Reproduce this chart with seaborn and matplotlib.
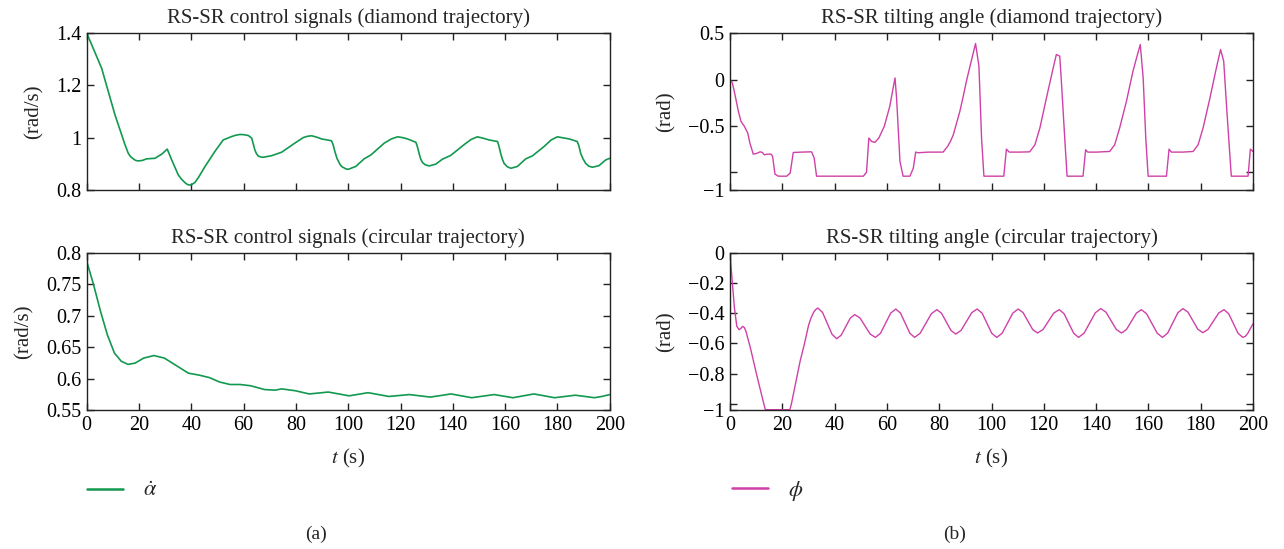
import matplotlib
matplotlib.use("Agg")
import matplotlib.pyplot as plt
import seaborn as sns
import pandas as pd
from matplotlib.lines import Line2D

# ---------------- data ----------------
# (a) top: RS-SR control signal, diamond trajectory
t_ctrl_diamond = [0, 5.7, 10.8, 13.4, 14.6, 15.9, 16.8, 17.8, 18.7, 19.7, 21.3, 22.9, 26.1, 28.7,
                  30.8, 32.5, 35.0, 36.3, 37.6, 38.4, 39.2, 40.2, 41.4, 42.8, 45.2, 49.0, 52.2,
                  55.4, 57.0, 58.6, 60.2, 61.8, 63.1, 64.3, 64.9, 65.6, 66.5, 67.5, 70.7, 74.5,
                  79.6, 82.8, 84.4, 86.0, 87.9, 89.8, 93.6, 94.2, 94.9, 95.7, 96.8, 97.6, 98.7,
                  99.3, 100.0, 102.9, 106.1, 108.7, 113.8, 116.5, 118.9, 120.8, 122.7, 125.9,
                  126.5, 127.1, 127.7, 128.4, 129.5, 131.0, 133.5, 136.1, 139.2, 144.3, 147.0,
                  149.4, 151.5, 153.9, 157.1, 157.6, 158.3, 158.9, 159.6, 160.8, 162.2, 164.7,
                  167.9, 170.4, 174.9, 177.6, 180.0, 182.2, 184.5, 187.6, 188.2, 188.9, 189.8,
                  190.8, 192.0, 193.4, 195.9, 198.5, 200.0]
v_ctrl_diamond = [1.40, 1.266, 1.088, 1.011, 0.975, 0.941, 0.928, 0.920, 0.914, 0.912, 0.914, 0.920,
                  0.922, 0.938, 0.957, 0.916, 0.859, 0.842, 0.829, 0.823, 0.820, 0.822, 0.830,
                  0.850, 0.890, 0.948, 0.992, 1.005, 1.010, 1.013, 1.012, 1.009, 0.999, 0.954,
                  0.940, 0.931, 0.927, 0.926, 0.932, 0.945, 0.980, 1.001, 1.006, 1.008, 1.003,
                  0.996, 0.989, 0.975, 0.948, 0.922, 0.900, 0.890, 0.884, 0.881, 0.880, 0.891,
                  0.920, 0.935, 0.980, 0.996, 1.004, 1.001, 0.996, 0.983, 0.965, 0.941, 0.920,
                  0.906, 0.897, 0.893, 0.900, 0.919, 0.933, 0.974, 0.994, 1.004, 0.999, 0.992,
                  0.986, 0.970, 0.941, 0.920, 0.903, 0.890, 0.884, 0.891, 0.920, 0.931, 0.967,
                  0.992, 1.004, 1.000, 0.996, 0.986, 0.970, 0.941, 0.920, 0.903, 0.892, 0.888,
                  0.894, 0.916, 0.922]

# (a) bottom: RS-SR control signal, circular trajectory
t_ctrl_circ = [0, 2.6, 5.3, 7.9, 10.6, 13.2, 15.8, 18.5, 21.8, 25.7, 29.7, 34.3, 38.9, 42.9, 46.9,
               50.8, 54.8, 58.7, 62.7, 68.0, 72.0, 74.6, 79.9, 85.1, 88.8, 92.4, 96.4, 100.3,
               104.0, 107.6, 111.6, 115.5, 119.5, 123.4, 127.4, 131.4, 135.4, 139.3, 143.3,
               147.2, 151.5, 155.8, 159.4, 163.0, 167.0, 171.0, 175.0, 178.9, 182.9, 186.8,
               190.5, 194.1, 197.0, 200.0]
v_ctrl_circ = [0.787, 0.750, 0.707, 0.670, 0.641, 0.628, 0.623, 0.625, 0.633, 0.637, 0.633, 0.621,
               0.609, 0.606, 0.602, 0.595, 0.591, 0.591, 0.589, 0.583, 0.582, 0.584, 0.581, 0.576,
               0.5775, 0.579, 0.576, 0.573, 0.5755, 0.578, 0.575, 0.572, 0.5735, 0.575, 0.573,
               0.571, 0.5735, 0.576, 0.573, 0.570, 0.5725, 0.575, 0.5725, 0.570, 0.573, 0.576,
               0.573, 0.570, 0.572, 0.574, 0.572, 0.570, 0.572, 0.575]

# (b) top: RS-SR tilting angle, diamond trajectory
t_tilt_diamond = [0, 0.9, 1.9, 3.2, 4.2, 5.5, 6.8, 7.6, 8.9, 10.2, 11.5, 12.4, 13.1, 14.4, 15.7,
                  16.3, 17.2, 18.5, 21.7, 23.0, 24.2, 27.4, 31.2, 32.2, 33.1, 51.0, 52.2, 53.1,
                  54.1, 55.4, 56.9, 59.0, 61.1, 63.1, 63.7, 65.0, 66.2, 68.8, 70.1, 71.0, 72.0,
                  75.8, 81.5, 83.2, 84.3, 85.4, 87.9, 89.2, 90.4, 92.4, 93.9, 95.2, 96.2, 97.1,
                  104.7, 105.7, 106.8, 110.8, 114.6, 116.6, 118.5, 121.0, 123.6, 124.8, 126.1,
                  126.8, 128.0, 128.9, 135.0, 136.0, 136.8, 140.1, 145.2, 147.1, 149.0, 151.6,
                  154.1, 156.0, 156.9, 158.0, 159.0, 159.9, 166.9, 167.9, 168.8, 173.2, 177.1,
                  179.0, 180.9, 183.4, 186.0, 187.6, 188.8, 190.1, 191.7, 198.1, 199.0, 200.0]
v_tilt_diamond = [0.0, -0.036, -0.163, -0.344, -0.453, -0.507, -0.580, -0.688, -0.808, -0.800,
                  -0.783, -0.790, -0.815, -0.808, -0.808, -0.833, -1.025, -1.047, -1.047, -1.014,
                  -0.790, -0.786, -0.783, -0.851, -1.047, -1.047, -1.004, -0.634, -0.670, -0.681,
                  -0.634, -0.507, -0.290, 0.018, -0.200, -0.888, -1.047, -1.047, -0.960, -0.786,
                  -0.793, -0.786, -0.786, -0.725, -0.670, -0.598, -0.344, -0.180, -0.018, 0.217,
                  0.391, 0.145, -0.634, -1.047, -1.047, -0.754, -0.786, -0.786, -0.783, -0.707,
                  -0.525, -0.200, 0.127, 0.272, 0.254, -0.054, -0.634, -1.047, -1.047, -0.760,
                  -0.786, -0.786, -0.779, -0.707, -0.525, -0.236, 0.091, 0.290, 0.380, 0.018,
                  -0.634, -1.047, -1.047, -0.754, -0.786, -0.786, -0.779, -0.707, -0.525, -0.217,
                  0.127, 0.326, 0.199, -0.380, -1.047, -1.047, -0.754, -0.779]

# (b) bottom: RS-SR tilting angle, circular trajectory
t_tilt_circ = [0, 0.65, 1.7, 2.6, 3.5, 4.2, 4.8, 5.5, 6.1, 7.8, 10.5, 12.7, 13.5, 22.9, 23.5, 24.2,
               26.8, 28.5, 30.1, 31.0, 32.0, 32.8, 33.6, 35.4, 37.2, 39.0, 40.8,
               42.5, 44.25, 46.0, 47.7, 49.7, 51.65, 53.6, 55.6,
               57.55, 59.5, 61.45, 63.4, 65.2, 67.0, 68.8, 70.6, 72.7, 74.85, 77.0, 79.1,
               80.9, 82.7, 84.5, 86.3, 88.35, 90.4, 92.45, 94.5, 96.4, 98.25, 100.1, 102.0,
               104.05, 106.1, 108.15, 110.2, 112.05, 113.9, 115.75, 117.6, 119.7, 121.75, 123.8,
               125.9, 127.75, 129.6, 131.45, 133.3, 135.4, 137.55, 139.7, 141.8, 143.8,
               145.75, 147.7, 149.7, 151.6, 153.5, 155.4, 157.3, 159.3, 161.35, 163.4,
               165.4, 167.35, 169.3, 171.25, 173.2, 175.1, 177.0, 178.9, 180.8, 182.8,
               184.85, 186.9, 188.9, 190.7, 192.5, 194.3, 196.1, 197.05, 198.05, 199.0, 200.0]
v_tilt_circ = [0.0, -0.144, -0.365, -0.487, -0.509, -0.500, -0.487, -0.495, -0.520, -0.630, -0.830,
               -0.985, -1.040, -1.040, -1.000, -0.940, -0.719, -0.600, -0.476, -0.430, -0.393,
               -0.375, -0.365, -0.395, -0.467, -0.539, -0.569,
               -0.546, -0.489, -0.432, -0.409, -0.431, -0.4845, -0.538, -0.560,
               -0.533, -0.466, -0.399, -0.372, -0.399, -0.466, -0.533, -0.560, -0.533, -0.468,
               -0.403, -0.376, -0.400, -0.457, -0.514, -0.538, -0.514, -0.455, -0.396, -0.372,
               -0.399, -0.466, -0.533, -0.560, -0.533, -0.466, -0.399, -0.372, -0.395, -0.4515,
               -0.508, -0.531, -0.508, -0.4535, -0.399, -0.376, -0.403, -0.468, -0.533, -0.560,
               -0.532, -0.4645, -0.397, -0.369, -0.393, -0.450, -0.507, -0.531, -0.508, -0.4535,
               -0.399, -0.376, -0.403, -0.468, -0.533, -0.560, -0.532, -0.4645, -0.397, -0.369,
               -0.392, -0.449, -0.506, -0.529, -0.507, -0.4525, -0.398, -0.376, -0.403, -0.468,
               -0.533, -0.560, -0.553, -0.532, -0.501, -0.470]

# ticks / labels
x_ticks = [0, 20, 40, 60, 80, 100, 120, 140, 160, 180, 200]
x_ticklabels = ["0", "20", "40", "60", "80", "100", "120", "140", "160", "180", "200"]
yt_ctrl_diamond = [0.8, 1.0, 1.2, 1.4]
yl_ctrl_diamond = ["0.8", "1", "1.2", "1.4"]
yt_ctrl_circ = [0.55, 0.6, 0.65, 0.7, 0.75, 0.8]
yl_ctrl_circ = ["0.55", "0.6", "0.65", "0.7", "0.75", "0.8"]
# the reference prints its "−1" label at the lower frame edge, below the -1 tick mark
yt_tilt_diamond = [0.5, 0.0, -0.5, -1.0, -1.2]
yl_tilt_diamond = ["0.5", "0", "\u22120.5", "", "\u22121"]
yt_tilt_circ = [0.0, -0.2, -0.4, -0.6, -0.8, -1.0, -1.044]
yl_tilt_circ = ["0", "\u22120.2", "\u22120.4", "\u22120.6", "\u22120.8", "", "\u22121"]

titles = ["RS-SR control signals (diamond trajectory)",
          "RS-SR control signals (circular trajectory)",
          "RS-SR tilting angle (diamond trajectory)",
          "RS-SR tilting angle (circular trajectory)"]

GREEN = "#12994f"
PINK = "#cf40a8"

# ---------------- styling ----------------
sns.set_theme(style="ticks")
plt.rcParams["font.family"] = ["Liberation Serif", "DejaVu Serif"]
plt.rcParams["mathtext.fontset"] = "stix"
plt.rcParams["axes.linewidth"] = 1.0
plt.rcParams["axes.edgecolor"] = "#222222"

fig = plt.figure(figsize=(12.84, 5.49), dpi=100)

W = 523 / 1284
H = 157.3 / 549
pos = {
    "a_top": [86.7 / 1284, 1 - 190.3 / 549, W, H],
    "a_bot": [86.7 / 1284, 1 - 410.3 / 549, W, H],
    "b_top": [730.0 / 1284, 1 - 190.3 / 549, W, H],
    "b_bot": [730.0 / 1284, 1 - 410.3 / 549, W, H],
}

specs = [
    ("a_top", t_ctrl_diamond, v_ctrl_diamond, GREEN, 1.2, (0.8, 1.4), yt_ctrl_diamond, yl_ctrl_diamond, "(rad/s)", titles[0], False),
    ("a_bot", t_ctrl_circ, v_ctrl_circ, GREEN, 1.2, (0.55, 0.8), yt_ctrl_circ, yl_ctrl_circ, "(rad/s)", titles[1], True),
    ("b_top", t_tilt_diamond, v_tilt_diamond, PINK, 1.0, (-1.2, 0.505), yt_tilt_diamond, yl_tilt_diamond, "(rad)", titles[2], False),
    ("b_bot", t_tilt_circ, v_tilt_circ, PINK, 1.0, (-1.044, 0.0), yt_tilt_circ, yl_tilt_circ, "(rad)", titles[3], True),
]

FS = 14
for key, tx, vy, col, lw, ylim, yt, yl, ylab, title, show_x in specs:
    ax = fig.add_axes(pos[key])
    df = pd.DataFrame({"t": tx, "v": vy})
    sns.lineplot(data=df, x="t", y="v", ax=ax, color=col, linewidth=lw, sort=False,
                 estimator=None)
    ax.set_xlim(0, 200)
    ax.set_ylim(*ylim)
    ax.set_xticks(x_ticks)
    ax.set_yticks(yt)
    ax.set_yticklabels(yl)
    if show_x:
        ax.set_xticklabels(x_ticklabels)
        ax.set_xlabel(r"$t$ (s)", fontsize=FS + 1, labelpad=9)
    else:
        ax.set_xticklabels([])
        ax.set_xlabel("")
    ax.set_ylabel(ylab, fontsize=FS + 1, labelpad=9)
    ax.set_title(title, fontsize=FS + 1, pad=7)
    ax.tick_params(direction="in", top=True, right=True, length=5, width=1,
                   labelsize=FS + 0.5, colors="#222222", pad=4)
    for lab in ax.get_xticklabels() + ax.get_yticklabels():
        lab.set_color("black")
    for sp in ax.spines.values():
        sp.set_visible(True)

# legends below each column
h_a = Line2D([], [], color=GREEN, linewidth=1.8)
h_b = Line2D([], [], color=PINK, linewidth=1.8)
fig.legend([h_a], [r"$\dot{\alpha}$"], loc="center left", bbox_to_anchor=(87 / 1284, 1 - 491 / 549),
           frameon=False, fontsize=FS + 2, handlelength=1.6, handletextpad=0.9,
           borderpad=0, borderaxespad=0)
fig.legend([h_b], [r"$\phi$"], loc="center left", bbox_to_anchor=(732 / 1284, 1 - 491 / 549),
           frameon=False, fontsize=FS + 2, handlelength=1.6, handletextpad=0.9,
           borderpad=0, borderaxespad=0)

fig.text(316 / 1284, 1 - 534 / 549, "(a)", ha="center", va="center", fontsize=FS)
fig.text(955 / 1284, 1 - 534 / 549, "(b)", ha="center", va="center", fontsize=FS)

fig.savefig("out.png", dpi=100, facecolor="white")
